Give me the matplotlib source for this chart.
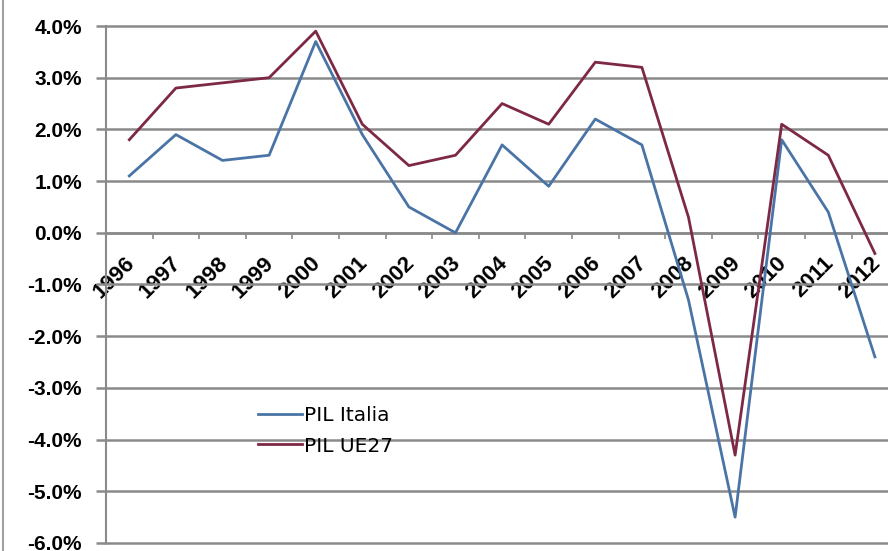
import matplotlib
matplotlib.use("Agg")
from matplotlib import pyplot as plt
from matplotlib.lines import Line2D
from matplotlib import transforms
import numpy as np

# Data (annual GDP growth, %)
years = ["1996", "1997", "1998", "1999", "2000", "2001", "2002", "2003", "2004",
         "2005", "2006", "2007", "2008", "2009", "2010", "2011", "2012"]
pil_italia = [1.1, 1.9, 1.4, 1.5, 3.7, 1.9, 0.5, 0.0, 1.7,
              0.9, 2.2, 1.7, -1.3, -5.5, 1.8, 0.4, -2.4]
pil_ue27 = [1.8, 2.8, 2.9, 3.0, 3.9, 2.1, 1.3, 1.5, 2.5,
            2.1, 3.3, 3.2, 0.3, -4.3, 2.1, 1.5, -0.4]
y_ticks = [-6, -5, -4, -3, -2, -1, 0, 1, 2, 3, 4]

blue = "#4a74a6"
red = "#7d2945"
grey = "#8a8a8a"

fig = plt.figure(figsize=(8.88, 5.51), dpi=100)
W, H = 888, 551
# axes placed in pixels; right side runs past the image edge like the original crop
left, right = 106, 106 + 17 * 46.6
top, bottom = 26, 543
ax = fig.add_axes([left / W, (H - bottom) / H, (right - left) / W, (bottom - top) / H])

x = np.arange(len(years))
ax.plot(x, pil_italia, color=blue, lw=2.0, label="PIL Italia", zorder=3)
ax.plot(x, pil_ue27, color=red, lw=2.0, label="PIL UE27", zorder=4)

ax.set_xlim(-0.5, len(years) - 0.5)
ax.set_ylim(-6, 4)

# y axis
ax.set_yticks(y_ticks)
ax.set_yticklabels(["{:.1f}%".format(v) for v in y_ticks])
ax.yaxis.grid(True, color=grey, lw=1.8, clip_on=False)
ax.tick_params(axis="y", direction="out", length=7.2, width=1.8, color=grey, pad=10,
               labelsize=15)
for lab in ax.get_yticklabels():
    lab.set_fontweight("bold")
    lab.set_family(["Liberation Sans", "DejaVu Sans"])

# x axis sits on the zero line
ax.spines["top"].set_visible(False)
ax.spines["right"].set_visible(False)
ax.spines["left"].set_color(grey)
ax.spines["left"].set_linewidth(1.5)
ax.spines["bottom"].set_position(("data", 0))
ax.spines["bottom"].set_color(grey)
ax.spines["bottom"].set_linewidth(1.8)

ax.set_xticks(x)
ax.set_xticklabels(years)
ax.set_xticks(x[:-1] + 0.5, minor=True)
ax.tick_params(axis="x", which="major", length=0, pad=19.5, labelsize=16)
ax.tick_params(axis="x", which="minor", direction="out", length=4, width=1.2, color=grey)
shift = transforms.ScaledTranslation(2 / 100, 0, fig.dpi_scale_trans)
for lab in ax.get_xticklabels():
    lab.set_rotation(45)
    lab.set_rotation_mode("anchor")
    lab.set_ha("right")
    lab.set_va("center")
    lab.set_fontweight("bold")
    lab.set_family(["Liberation Sans", "DejaVu Sans"])
    lab.set_transform(lab.get_transform() + shift)

# legend inside the plot
leg = ax.legend(loc="center left", bbox_to_anchor=(258 / W, 1 - 431 / H),
                bbox_transform=fig.transFigure, frameon=False,
                handlelength=2.2, handletextpad=0.1, borderpad=0, borderaxespad=0,
                labelspacing=0.55, prop={"size": 14.5, "family": ["DejaVu Sans"]})

# chart area border on the left
fig.add_artist(Line2D([3 / W, 3 / W], [0, 1], color="#a0a0a0", lw=1.5))

fig.savefig("out.png", dpi=100)
